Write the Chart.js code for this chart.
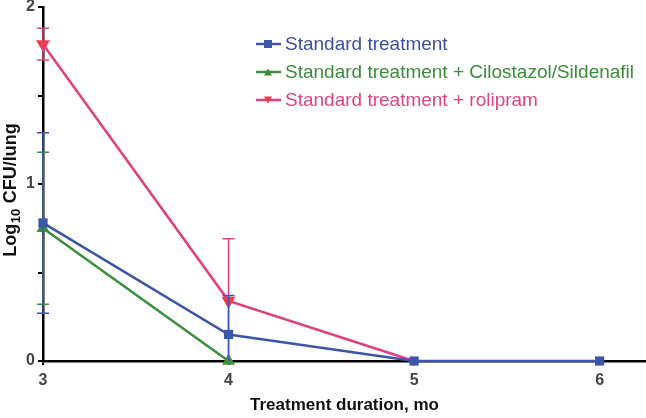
<!DOCTYPE html>
<html>
<head>
<meta charset="utf-8">
<script src="https://cdn.jsdelivr.net/npm/chart.js@4.4.1/dist/chart.umd.min.js"></script>
<style>
  html, body { margin: 0; padding: 0; background: #fff; }
  #wrap { width: 646px; height: 418px; }
</style>
</head>
<body>
<div id="wrap"><canvas id="chart1" width="646" height="418"></canvas></div>
<script>
// datos
const months = [3, 4, 5, 6];
const xTicks = [3, 4, 5, 6];
const yTicks = [0, 0.5, 1, 1.5, 2];
const standard = [0.78, 0.15, 0, 0];
const standardErr = [0.51, 0.22, 0, 0];
const cilostazol = [0.75, 0, null, null];
const cilostazolErr = [0.43, 0, null, null];
const rolipram = [1.79, 0.34, 0, null];
const rolipramErr = [0.09, 0.35, 0, null];
const labels = ['Standard treatment', 'Standard treatment + Cilostazol/Sildenafil', 'Standard treatment + rolipram'];
const yTitle = ['Log', '10', ' CFU/lung'];

const blue = '#3d55a8', green = '#3a8e3c', pink = '#e0407f', red = '#ee3b4c';
const fontFam = '"Liberation Sans", Arial, sans-serif';

function pts(arr) { return months.map((m, i) => ({ x: m, y: arr[i] })); }

// barras de error dibujadas con las escalas
const errorBars = {
  id: 'errorBars',
  afterDatasetsDraw(chart) {
    const ctx = chart.ctx;
    const ys = chart.scales.y, xs = chart.scales.x;
    for (let d = chart.data.datasets.length - 1; d >= 0; d--) {
      const ds = chart.data.datasets[d];
      ctx.save();
      ctx.strokeStyle = ds.errColor;
      ctx.lineWidth = 1.5;
      ds.data.forEach((p, i) => {
        const e = ds.err[i];
        if (p.y == null || !e) return;
        const x = xs.getPixelForValue(p.x);
        const top = ys.getPixelForValue(p.y + e);
        const bot = ys.getPixelForValue(Math.max(p.y - e, ys.min));
        ctx.beginPath();
        ctx.moveTo(x, top); ctx.lineTo(x, bot);
        ctx.moveTo(x - 6, top); ctx.lineTo(x + 6, top);
        if (p.y - e > ys.min) { ctx.moveTo(x - 6, bot); ctx.lineTo(x + 6, bot); }
        ctx.stroke();
      });
      ctx.restore();
    }
  }
};

// leyenda dentro del area + titulo Y con subindice
const insideLegend = {
  id: 'insideLegend',
  afterDraw(chart) {
    const ctx = chart.ctx;
    chart.data.datasets.forEach((ds, i) => {
      const y = 44 + i * 28;
      ctx.save();
      ctx.strokeStyle = ds.borderColor;
      ctx.lineWidth = 2.5;
      ctx.beginPath(); ctx.moveTo(256, y); ctx.lineTo(281, y); ctx.stroke();
      ctx.fillStyle = ds.pointBackgroundColor;
      ctx.beginPath();
      if (ds.pointStyle === 'rect') {
        ctx.rect(264, y - 4, 8, 8);
      } else if (ds.pointRotation === 180) {
        ctx.moveTo(264, y - 3.5); ctx.lineTo(272, y - 3.5); ctx.lineTo(268, y + 3.5);
      } else {
        ctx.moveTo(264, y + 3.5); ctx.lineTo(272, y + 3.5); ctx.lineTo(268, y - 3.5);
      }
      ctx.fill();
      ctx.fillStyle = ds.textColor;
      ctx.font = '19px ' + fontFam;
      ctx.textBaseline = 'middle';
      ctx.fillText(ds.label, 285, y + 1);
      ctx.restore();
    });

    // titulo del eje y
    ctx.save();
    const big = 'bold 18px ' + fontFam, small = 'bold 13px ' + fontFam;
    ctx.font = big; const w0 = ctx.measureText(yTitle[0]).width, w2 = ctx.measureText(yTitle[2]).width;
    ctx.font = small; const w1 = ctx.measureText(yTitle[1]).width + 1;
    const total = w0 + w1 + w2;
    ctx.translate(16, 190);
    ctx.rotate(-Math.PI / 2);
    ctx.fillStyle = '#111';
    ctx.textBaseline = 'alphabetic';
    let x = -total / 2;
    ctx.font = big; ctx.fillText(yTitle[0], x, 0); x += w0;
    ctx.font = small; ctx.fillText(yTitle[1], x + 0.5, 4); x += w1;
    ctx.font = big; ctx.fillText(yTitle[2], x, 0);
    ctx.restore();
  }
};

const ctx = document.getElementById('chart1').getContext('2d');
new Chart(ctx, {
  type: 'line',
  data: {
    datasets: [
      { label: labels[0], data: pts(standard), err: standardErr, errColor: blue, textColor: '#3d4fa0',
        borderColor: blue, backgroundColor: blue, pointBackgroundColor: blue, pointBorderColor: blue,
        pointStyle: 'rect', pointRadius: 6.5, pointBorderWidth: 0, borderWidth: 2.5, clip: false },
      { label: labels[1], data: pts(cilostazol), err: cilostazolErr, errColor: green, textColor: '#3b8c3c',
        borderColor: green, backgroundColor: green, pointBackgroundColor: green, pointBorderColor: green,
        pointStyle: 'triangle', pointRadius: 5, borderWidth: 2.5, clip: false },
      { label: labels[2], data: pts(rolipram), err: rolipramErr, errColor: pink, textColor: '#e0447f',
        borderColor: pink, backgroundColor: red, pointBackgroundColor: red, pointBorderColor: red,
        pointStyle: 'triangle', pointRotation: 180, pointRadius: [5.5, 5.5, 3, 3], borderWidth: 2.5, clip: false }
    ]
  },
  options: {
    responsive: false,
    animation: false,
    layout: { autoPadding: false, padding: { top: 7, right: 0, left: 0, bottom: 0 } },
    plugins: { legend: { display: false }, tooltip: { enabled: false } },
    scales: {
      x: {
        type: 'linear', min: 3, max: 6.25,
        afterBuildTicks: (axis) => { axis.ticks = xTicks.map(v => ({ value: v })); },
        afterFit: (axis) => { axis.height = 57; axis.paddingRight = 0; axis.paddingLeft = 0; },
        grid: { display: true, drawOnChartArea: false, drawTicks: true, tickLength: 4, color: '#000', lineWidth: 2 },
        border: { display: true, color: '#000', width: 2.5 },
        ticks: { color: '#444', padding: 6, font: { family: fontFam, size: 16, weight: 'bold' } },
        title: { display: true, text: 'Treatment duration, mo', color: '#111', padding: { top: 0, bottom: 2 },
                 font: { family: fontFam, size: 17, weight: 'bold' } }
      },
      y: {
        min: 0, max: 2,
        afterBuildTicks: (axis) => { axis.ticks = yTicks.map(v => ({ value: v })); },
        afterFit: (axis) => { axis.width = 43; axis.paddingTop = 0; axis.paddingBottom = 0; },
        grid: { display: true, drawOnChartArea: false, drawTicks: true, tickLength: 5, color: '#000', lineWidth: 2 },
        border: { display: true, color: '#000', width: 2.5 },
        ticks: { color: '#444', padding: 3, font: { family: fontFam, size: 16, weight: 'bold' },
                 callback: (v) => Number.isInteger(v) ? v : '' },
        title: { display: false }
      }
    }
  },
  plugins: [errorBars, insideLegend]
});
</script>
</body>
</html>
